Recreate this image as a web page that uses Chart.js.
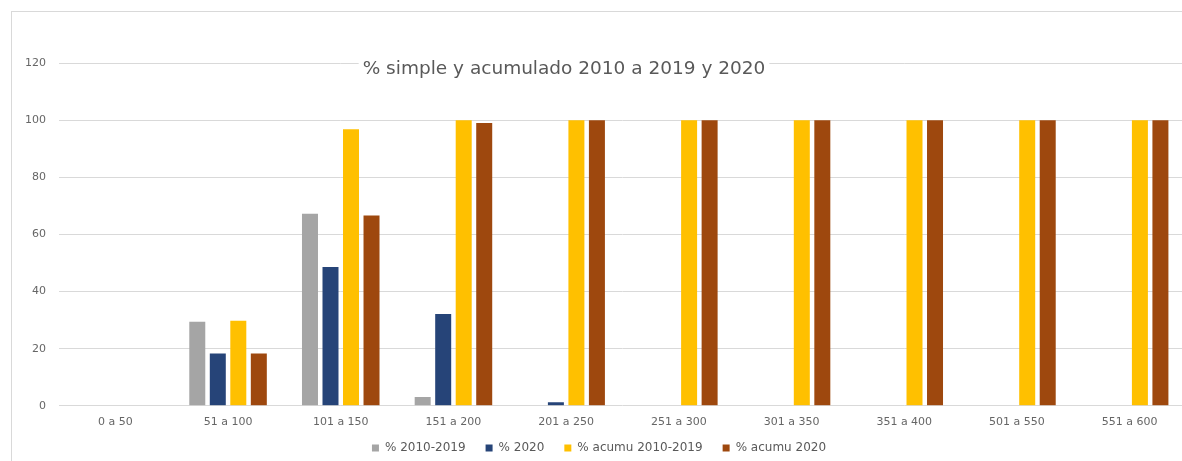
<!DOCTYPE html>
<html>
<head>
<meta charset="utf-8">
<script src="https://cdn.jsdelivr.net/npm/chart.js@4"></script>
<style>
  html, body { margin: 0; padding: 0; background: #fff; overflow: hidden; }
  #frame { position: absolute; left: 11px; top: 11px; width: 1190px; height: 470px; border: 1px solid #d9d9d9; }
  #myChart { display: block; }
</style>
</head>
<body>
<div id="frame"><canvas id="myChart" width="1190" height="461"></canvas></div>
<script>
const categorias = ['0 a 50', '51 a 100', '101 a 150', '151 a 200', '201 a 250', '251 a 300', '301 a 350', '351 a 400', '501 a 550', '551 a 600'];
const simple1019 = [0, 29.4, 67.2, 3.1, 0, 0, 0, 0, 0, 0];
const simple2020 = [0, 18.3, 48.6, 32.1, 1.2, 0, 0, 0, 0, 0];
const acumu1019 = [0, 29.8, 96.8, 100, 100, 100, 100, 100, 100, 100];
const acumu2020 = [0, 18.3, 66.6, 99.0, 100, 100, 100, 100, 100, 100];
const yTicks = [0, 20, 40, 60, 80, 100, 120];

const titulo = '% simple y acumulado 2010 a 2019 y 2020';
const fuente = 'DejaVu Sans';

// naslov preko mreze, sa belom pozadinom
const naslovPlugin = {
  id: 'naslov',
  afterDraw(chart) {
    const c = chart.ctx;
    c.save();
    c.font = '18.5px "' + fuente + '"';
    const w = c.measureText(titulo).width;
    const x = 552, y = 57;
    c.fillStyle = '#fff';
    c.fillRect(x - w / 2 - 4, y - 12, w + 8, 24);
    c.fillStyle = '#595959';
    c.textAlign = 'center';
    c.textBaseline = 'middle';
    c.fillText(titulo, x, y);
    c.restore();
  }
};

// legenda malo blize osi
const legendaGore = {
  id: 'legendaGore',
  afterLayout(chart) {
    chart.legend.top -= 9;
    chart.legend.bottom -= 9;
  }
};

let ctx = document.getElementById('myChart').getContext('2d');
let chart = new Chart(ctx, {
  type: 'bar',
  data: {
    labels: categorias,
    datasets: [
      { label: '% 2010-2019', data: simple1019, backgroundColor: '#a5a5a5' },
      { label: '% 2020', data: simple2020, backgroundColor: '#264478' },
      { label: '% acumu 2010-2019', data: acumu1019, backgroundColor: '#ffc000' },
      { label: '% acumu 2020', data: acumu2020, backgroundColor: '#9e480e' }
    ]
  },
  options: {
    responsive: false,
    animation: false,
    layout: { padding: { top: 51, right: 16, bottom: 0, left: 0 } },
    datasets: { bar: { categoryPercentage: 0.728, barPercentage: 0.78 } },
    plugins: {
      title: { display: false },
      tooltip: { enabled: false },
      legend: {
        position: 'bottom',
        labels: {
          boxWidth: 7, boxHeight: 7, padding: 20,
          color: '#595959',
          font: { family: fuente, size: 12 }
        }
      }
    },
    scales: {
      x: {
        grid: { display: false },
        border: { display: false },
        ticks: { color: '#666', font: { family: fuente, size: 11 }, padding: 2, maxRotation: 0, autoSkip: false }
      },
      y: {
        min: 0, max: 120,
        afterFit: function (s) { s.width = 47; },
        afterBuildTicks: function (s) { s.ticks = yTicks.map(v => ({ value: v })); },
        grid: { color: '#d9d9d9', drawTicks: false },
        border: { display: false },
        ticks: { color: '#666', font: { family: fuente, size: 11 }, padding: 13 }
      }
    }
  },
  plugins: [naslovPlugin, legendaGore]
});
</script>
</body>
</html>
